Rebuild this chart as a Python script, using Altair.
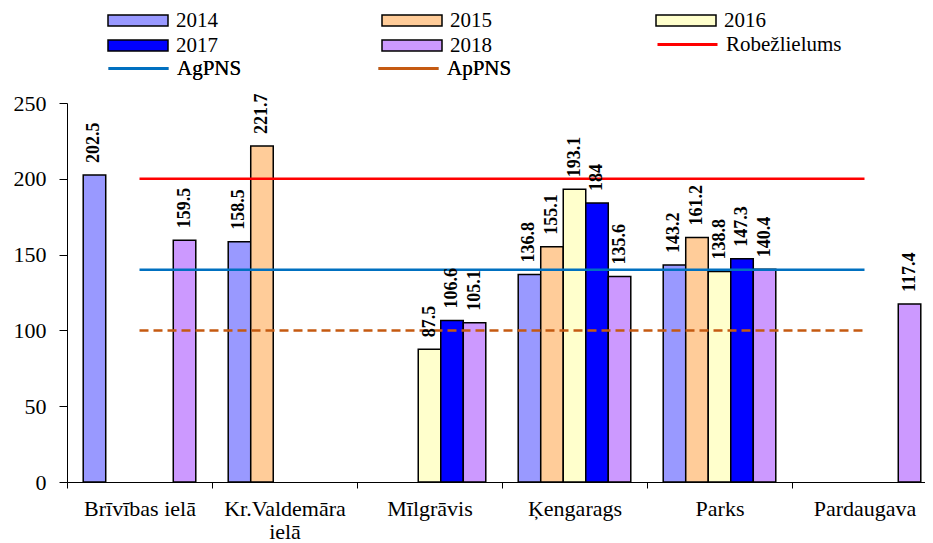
import altair as alt
import pandas as pd

categories = ["Brīvības ielā", "Kr.Valdemāra ielā", "Mīlgrāvis", "Ķengarags", "Parks", "Pardaugava"]
years = ["2014", "2015", "2016", "2017", "2018"]
v2014 = [202.5, 158.5, None, 136.8, 143.2, None]
v2015 = [None, 221.7, None, 155.1, 161.2, None]
v2016 = [None, None, 87.5, 193.1, 138.8, None]
v2017 = [None, None, 106.6, 184.0, 147.3, None]
v2018 = [159.5, None, 105.1, 135.6, 140.4, 117.4]
year_colors = ["#9999FF", "#FFCC99", "#FFFFCC", "#0000FF", "#CC99FF"]
# legend grid is filled column by column: this order reads row by row as 2014 2015 2016 / 2017 2018
legend_year_order = ["2014", "2017", "2015", "2018", "2016"]

limit_names = ["Robežlielums", "AgPNS", "ApPNS"]
limit_values = [200, 140, 100]
limit_colors = ["#FF0000", "#0070C0", "#C55A11"]

FONT = "Liberation Serif"

series = dict(zip(years, [v2014, v2015, v2016, v2017, v2018]))
bar_rows = []
for y in years:
    for c, v in zip(categories, series[y]):
        if v is not None:
            bar_rows.append({"Category": c, "Series": y, "Value": v})
bars_df = pd.DataFrame(bar_rows)

line_rows = []
for n, v in zip(limit_names, limit_values):
    for c in categories:
        line_rows.append({"Category": c, "Series": n, "Value": v})
lines_df = pd.DataFrame(line_rows)

x_enc = alt.X(
    "Category:N",
    sort=categories,
    scale=alt.Scale(domain=categories, range=[0, 870], paddingInner=0, paddingOuter=0),
    axis=alt.Axis(
        title=None,
        tickBand="extent",
        tickSize=6,
        labelPadding=10,
        labelFont=FONT,
        labelFontSize=22,
        labelColor="black",
        labelAngle=0,
        labelLineHeight=23,
        labelExpr="datum.label == 'Kr.Valdemāra ielā' ? ['Kr.Valdemāra', 'ielā'] : datum.label",
        domainColor="black",
        tickColor="black",
        grid=False,
    ),
)
y_enc = alt.Y(
    "Value:Q",
    scale=alt.Scale(domain=[0, 250], nice=False),
    axis=alt.Axis(
        title=None,
        values=[0, 50, 100, 150, 200, 250],
        tickSize=8,
        labelPadding=13,
        labelFont=FONT,
        labelFontSize=22,
        labelColor="black",
        domainColor="black",
        tickColor="black",
        grid=False,
    ),
)
xoff = alt.XOffset("Series:N", scale=alt.Scale(domain=years, paddingInner=0, paddingOuter=0.72))

bars = alt.Chart(bars_df).mark_bar(stroke="black", strokeWidth=1.5).encode(
    x=x_enc,
    xOffset=xoff,
    y=y_enc,
    color=alt.Color(
        "Series:N",
        scale=alt.Scale(domain=years, range=year_colors),
        legend=alt.Legend(
            title=None, orient="none", legendX=40, legendY=-93,
            columns=3, columnPadding=163, values=legend_year_order,
            symbolType="M-1,-0.18H1V0.18H-1Z",
            symbolStrokeColor="black", symbolStrokeWidth=1.5,
        ),
    ),
)

labels = alt.Chart(bars_df).mark_text(
    angle=270, align="left", baseline="middle", dx=12,
    font=FONT, fontSize=18, fontWeight="bold", color="black",
).encode(
    x=alt.X("Category:N", sort=categories),
    xOffset=xoff,
    y="Value:Q",
    text=alt.Text("Value:Q", format=".4~g"),
)

red = alt.Chart(lines_df).transform_filter(
    alt.datum.Series == "Robežlielums"
).mark_line(strokeWidth=2.5).encode(
    x=alt.X("Category:N", sort=categories),
    y="Value:Q",
    stroke=alt.Stroke(
        "Series:N",
        scale=alt.Scale(domain=limit_names[:1], range=limit_colors[:1]),
        legend=alt.Legend(
            title=None, orient="none", legendX=589, legendY=-69,
            symbolType="stroke", symbolStrokeWidth=3,
        ),
    ),
)

other_legend = alt.Legend(
    title=None, orient="none", legendX=40, legendY=-45,
    columns=2, columnPadding=135,
    symbolType="stroke", symbolStrokeWidth=3,
)
others = alt.Chart(lines_df).transform_filter(
    alt.datum.Series != "Robežlielums"
).mark_line(strokeWidth=2.5).encode(
    x=alt.X("Category:N", sort=categories),
    y="Value:Q",
    stroke=alt.Stroke(
        "Series:N",
        scale=alt.Scale(domain=limit_names[1:], range=limit_colors[1:]),
        legend=other_legend,
    ),
    strokeDash=alt.StrokeDash(
        "Series:N",
        scale=alt.Scale(domain=limit_names[1:], range=[[1, 0], [9, 5]]),
        legend=other_legend,
    ),
)

chart = alt.layer(bars, red, others, labels).resolve_scale(
    stroke="independent"
).properties(
    width=850,
    height=379,
    autosize=alt.AutoSizeParams(type="none"),
    padding={"left": 59, "top": 95, "right": 8, "bottom": 61},
).configure_view(stroke=None).configure_legend(
    labelFont=FONT,
    labelFontSize=21,
    labelColor="black",
    labelOffset=7,
    labelLimit=300,
    symbolSize=3600,
    symbolOpacity=1,
    padding=0,
    rowPadding=3,
    clipHeight=21,
    gridAlign="all",
)

chart.save("out.html", embed_options={"renderer": "svg", "actions": False})
